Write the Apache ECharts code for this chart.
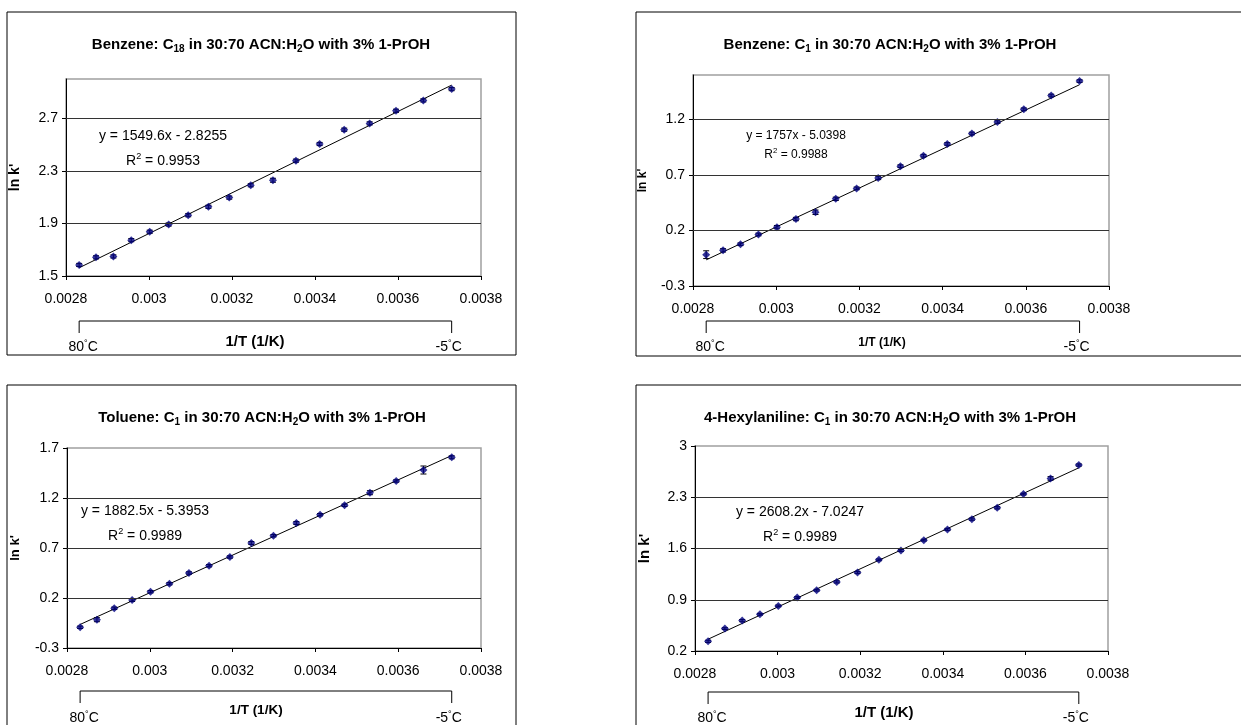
<!DOCTYPE html>
<html>
<head>
<meta charset="utf-8">
<title>ln k' vs 1/T</title>
<script src="https://cdn.jsdelivr.net/npm/echarts@6/dist/echarts.min.js"></script>
<style>
  html, body { margin: 0; padding: 0; background: #fff; }
  #chart { width: 1241px; height: 725px; }
</style>
</head>
<body>
<div id="chart"></div>
<script>
// 1/T (1/K) for 80, 75, ... 0, -5 C
const invT = [0.0028317, 0.0028723, 0.0029142, 0.0029573, 0.0030017, 0.0030474, 0.0030945, 0.0031432, 0.0031934,
  0.0032452, 0.0032987, 0.0033540, 0.0034112, 0.0034704, 0.0035317, 0.0035952, 0.0036610, 0.0037293]

// ln k'
const benzeneC18 = [1.584, 1.642, 1.649, 1.773, 1.837, 1.892, 1.963, 2.027, 2.097, 2.191, 2.229, 2.378, 2.505, 2.614, 2.662, 2.758, 2.837, 2.923]
const benzeneC1 = [-0.018, 0.021, 0.076, 0.164, 0.230, 0.303, 0.364, 0.485, 0.579, 0.673, 0.779, 0.873, 0.979, 1.073, 1.176, 1.291, 1.415, 1.545]
const tolueneC1 = [-0.093, -0.017, 0.097, 0.180, 0.263, 0.343, 0.450, 0.523, 0.610, 0.750, 0.823, 0.950, 1.033, 1.127, 1.253, 1.370, 1.480, 1.607]
const hexylC1 = [0.332, 0.506, 0.615, 0.702, 0.816, 0.930, 1.030, 1.144, 1.272, 1.445, 1.573, 1.714, 1.860, 2.001, 2.156, 2.343, 2.557, 2.740]

// error bar half widths
const benzeneC18Err = [0.012, 0.012, 0.012, 0.012, 0.012, 0.012, 0.012, 0.012, 0.012, 0.012, 0.015, 0.012, 0.012, 0.012, 0.012, 0.012, 0.012, 0.012]
const benzeneC1Err = [0.035, 0.015, 0.012, 0.012, 0.015, 0.015, 0.02, 0.015, 0.012, 0.015, 0.012, 0.012, 0.012, 0.012, 0.012, 0.012, 0.012, 0.012]
const tolueneC1Err = [0.012, 0.02, 0.012, 0.015, 0.012, 0.012, 0.012, 0.012, 0.012, 0.015, 0.012, 0.015, 0.012, 0.012, 0.02, 0.012, 0.04, 0.015]
const hexylC1Err = [0.015, 0.012, 0.015, 0.012, 0.012, 0.012, 0.012, 0.015, 0.015, 0.012, 0.015, 0.012, 0.015, 0.015, 0.015, 0.012, 0.025, 0.015]

// trendlines [slope, intercept] and R^2 as printed
const benzeneC18Fit = [1549.6, -2.8255]
const benzeneC1Fit = [1757, -5.0398]
const tolueneC1Fit = [1882.5, -5.3953]
const hexylC1Fit = [2608.2, -7.0247]
const eqLabels = ['y = 1549.6x - 2.8255', 'y = 1757x - 5.0398', 'y = 1882.5x - 5.3953', 'y = 2608.2x - 7.0247']
const r2Labels = ['0.9953', '0.9988', '0.9989', '0.9989']

const titles = [
  'Benzene: C{sub|18} in 30:70 ACN:H{sub|2}O with 3% 1-PrOH',
  'Benzene: C{sub|1} in 30:70 ACN:H{sub|2}O with 3% 1-PrOH',
  'Toluene: C{sub|1} in 30:70 ACN:H{sub|2}O with 3% 1-PrOH',
  '4-Hexylaniline: C{sub|1} in 30:70 ACN:H{sub|2}O with 3% 1-PrOH'
]

// axis ticks
const xTicks = [0.0028, 0.003, 0.0032, 0.0034, 0.0036, 0.0038]
const yTicksBenzC18 = [1.5, 1.9, 2.3, 2.7]
const yTicksBenzC1 = [-0.3, 0.2, 0.7, 1.2]
const yTicksTol = [-0.3, 0.2, 0.7, 1.2, 1.7]
const yTicksHex = [0.2, 0.9, 1.6, 2.3, 3]
const yMax = [3.0, 1.6, 1.7, 3]

const FONT = '"Liberation Sans", Arial, sans-serif'

// layout of the 4 boxes
const panels = [
  {y: benzeneC18, err: benzeneC18Err, fit: benzeneC18Fit, ticks: yTicksBenzC18,
    grid: {left: 66, top: 79, width: 415, height: 197}, box: [7, 12, 509, 343], titleAt: [261, 45],
    eqAt: [163, 136, 161], eqSize: 14, nameGap: 44, nameSize: 14, br: [321, 333, 347, 342], tSize: 15},
  {y: benzeneC1, err: benzeneC1Err, fit: benzeneC1Fit, ticks: yTicksBenzC1,
    grid: {left: 693, top: 75, width: 416, height: 211}, box: [636, 12, 620, 344], titleAt: [890, 45],
    eqAt: [796, 136, 155], eqSize: 12, nameGap: 44, nameSize: 12, br: [321, 333, 347, 343], tSize: 12},
  {y: tolueneC1, err: tolueneC1Err, fit: tolueneC1Fit, ticks: yTicksTol,
    grid: {left: 67, top: 448, width: 414, height: 200}, box: [7, 385, 509, 360], titleAt: [262, 418],
    eqAt: [145, 511, 536], eqSize: 14, nameGap: 45, nameSize: 13, br: [691, 703, 718, 710], tSize: 13.5},
  {y: hexylC1, err: hexylC1Err, fit: hexylC1Fit, ticks: yTicksHex,
    grid: {left: 695, top: 446, width: 413, height: 205}, box: [636, 385, 620, 360], titleAt: [890, 418],
    eqAt: [800, 512, 537], eqSize: 14, nameGap: 43, nameSize: 15, br: [692, 704, 718, 713], tSize: 15}
]

let myChart = echarts.init(document.getElementById('chart'))

let grids = [], xAxes = [], yAxes = [], series = []
panels.forEach((p, i) => {
  grids.push(Object.assign({show: true, borderColor: '#a0a0a0', borderWidth: 1.5}, p.grid))
  xAxes.push({
    gridIndex: i, type: 'value', min: 0.0028, max: 0.0038,
    axisLine: {show: true, onZero: false, lineStyle: {color: '#000', width: 1}},
    axisTick: {show: true, length: 4, customValues: xTicks, lineStyle: {color: '#000'}},
    axisLabel: {customValues: xTicks, fontSize: 14, color: '#000', margin: 16, fontFamily: FONT},
    splitLine: {show: false}
  })
  yAxes.push({
    gridIndex: i, type: 'value', min: p.ticks[0], max: yMax[i],
    axisLine: {show: true, onZero: false, lineStyle: {color: '#000', width: 1}},
    axisTick: {show: true, length: 4, customValues: p.ticks, lineStyle: {color: '#000'}},
    axisLabel: {customValues: p.ticks, fontSize: 14, color: '#000', margin: 8, fontFamily: FONT},
    splitLine: {show: false},
    name: "ln k'", nameLocation: 'middle', nameGap: p.nameGap,
    nameTextStyle: {fontSize: p.nameSize, fontWeight: 'bold', color: '#000', fontFamily: FONT}
  })
  const last = invT.length - 1
  // gridlines between min and max
  const gl = p.ticks.filter(t => t > p.ticks[0] && t < yMax[i]).map(t => ({yAxis: t}))
  series.push({
    type: 'line', xAxisIndex: i, yAxisIndex: i, showSymbol: false, silent: true, z: 2,
    lineStyle: {color: '#000', width: 1},
    data: [[invT[0], p.fit[0] * invT[0] + p.fit[1]], [invT[last], p.fit[0] * invT[last] + p.fit[1]]],
    markLine: {silent: true, symbol: ['none', 'none'], label: {show: false}, animation: false,
      lineStyle: {color: '#333', width: 1, type: 'solid'}, data: gl}
  })
  series.push({
    type: 'custom', xAxisIndex: i, yAxisIndex: i, silent: true, z: 3,
    data: invT.map((x, k) => [x, p.y[k] - p.err[k], p.y[k] + p.err[k]]),
    renderItem: function (params, api) {
      const top = api.coord([api.value(0), api.value(2)])
      const bot = api.coord([api.value(0), api.value(1)])
      const st = {stroke: '#000', lineWidth: 1}
      return {type: 'group', children: [
        {type: 'line', shape: {x1: top[0], y1: top[1], x2: bot[0], y2: bot[1]}, style: st},
        {type: 'line', shape: {x1: top[0] - 3, y1: top[1], x2: top[0] + 3, y2: top[1]}, style: st},
        {type: 'line', shape: {x1: bot[0] - 3, y1: bot[1], x2: bot[0] + 3, y2: bot[1]}, style: st}
      ]}
    }
  })
  series.push({
    type: 'scatter', xAxisIndex: i, yAxisIndex: i, z: 4,
    symbol: 'diamond', symbolSize: 8,
    itemStyle: {color: '#000080'},
    data: invT.map((x, k) => [x, p.y[k]])
  })
})

myChart.setOption({animation: false, grid: grids, xAxis: xAxes, yAxis: yAxes, series: series})

// boxes, titles, equations and the 80C / -5C bracket
let g = []
panels.forEach((p, i) => {
  g.push({type: 'rect', shape: {x: p.box[0], y: p.box[1], width: p.box[2], height: p.box[3]},
    style: {fill: 'none', stroke: '#000', lineWidth: 1}, z: 0})
  g.push({type: 'text', x: p.titleAt[0], y: p.titleAt[1], style: {
    text: titles[i], fill: '#000', fontSize: 15, fontWeight: 'bold', fontFamily: FONT, lineHeight: 18,
    align: 'center', verticalAlign: 'middle',
    rich: {sub: {fontSize: 10, fontWeight: 'bold', fontFamily: FONT, verticalAlign: 'bottom', lineHeight: 12}}
  }})
  g.push({type: 'text', x: p.eqAt[0], y: p.eqAt[1], style: {
    text: eqLabels[i], fill: '#000', fontSize: p.eqSize, fontFamily: FONT, align: 'center', verticalAlign: 'middle'}})
  g.push({type: 'text', x: p.eqAt[0], y: p.eqAt[2], style: {
    text: 'R{sup|2} = ' + r2Labels[i], fill: '#000', fontSize: p.eqSize, fontFamily: FONT, lineHeight: p.eqSize + 4,
    align: 'center', verticalAlign: 'middle',
    rich: {sup: {fontSize: p.eqSize * 0.65, fontFamily: FONT, verticalAlign: 'top', lineHeight: p.eqSize * 0.7}}}})

  const xl = myChart.convertToPixel({xAxisIndex: i}, invT[0])
  const xr = myChart.convertToPixel({xAxisIndex: i}, invT[invT.length - 1])
  const b = p.br
  g.push({type: 'polyline', shape: {points: [[xl, b[1]], [xl, b[0]], [xr, b[0]], [xr, b[1]]]},
    style: {fill: 'none', stroke: '#000', lineWidth: 1}})
  const degStyle = {deg: {fontSize: 9, fontFamily: FONT, verticalAlign: 'top', lineHeight: 9}}
  g.push({type: 'text', x: xl + 4, y: b[2], style: {text: '80{deg|°}C', fill: '#000', fontSize: 14, fontFamily: FONT,
    lineHeight: 16, align: 'center', verticalAlign: 'middle', rich: degStyle}})
  g.push({type: 'text', x: xr - 3, y: b[2], style: {text: '-5{deg|°}C', fill: '#000', fontSize: 14, fontFamily: FONT,
    lineHeight: 16, align: 'center', verticalAlign: 'middle', rich: degStyle}})
  g.push({type: 'text', x: p.grid.left + 189, y: b[3], style: {text: '1/T (1/K)', fill: '#000', fontSize: p.tSize,
    fontWeight: 'bold', fontFamily: FONT, align: 'center', verticalAlign: 'middle'}})
})
myChart.setOption({graphic: g})
</script>
</body>
</html>
